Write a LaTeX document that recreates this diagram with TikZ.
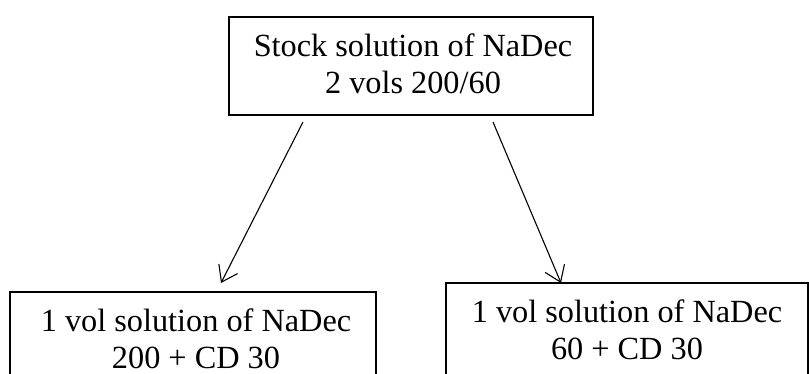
\documentclass[tikz,border=0pt]{standalone}
\usepackage{fontspec}
\setmainfont{Liberation Serif}
\usetikzlibrary{arrows.meta}
\tikzset{
  box/.style={draw=black, line width=1.7pt, inner sep=0pt},
  txt/.style={align=center, inner sep=0pt, font=\fontsize{32.3}{37.5}\selectfont},
  conn/.style={line width=1.1pt, -{Straight Barb[length=15pt,width=21pt,line width=1.1pt]}}
}
\begin{document}
\begin{tikzpicture}[x=1pt,y=1pt]
\useasboundingbox[fill=white] (0,0) rectangle (809,373);
\node[box, minimum width=364pt, minimum height=98pt] (top) at (411,307) {};
\node[txt, anchor=north] (toptxt) at ([xshift=2pt,yshift=-17pt]top.north) {Stock solution of NaDec\\2 vols 200/60};
\node[box, minimum width=366pt, minimum height=100pt] (bl) at (193,31) {};
\node[txt, anchor=north] (bltxt) at ([xshift=3pt,yshift=-17pt]bl.north) {1 vol solution of NaDec\\200 + CD 30};
\node[box, minimum width=362pt, minimum height=100pt] (br) at (627,40) {};
\node[txt, anchor=north] (brtxt) at ([yshift=-17pt]br.north) {1 vol solution of NaDec\\60 + CD 30};
\coordinate (s1) at (303,251);
\coordinate (e1) at (221,90);
\coordinate (s2) at (493,251);
\coordinate (e2) at (561,90);
\draw[conn] (s1) -- (e1);
\draw[conn] (s2) -- (e2);
\end{tikzpicture}
\end{document}
